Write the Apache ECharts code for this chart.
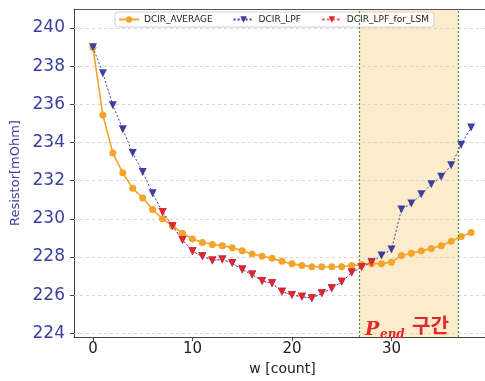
<!DOCTYPE html>
<html><head><meta charset="utf-8">
<script src="https://cdn.jsdelivr.net/npm/echarts@6/dist/echarts.min.js"></script>
<style>html,body{margin:0;padding:0;background:#fff;overflow:hidden}#c{width:520px;height:381px}</style>
</head><body><div id="c"></div>
<script>
const counts = [0,1,2,3,4,5,6,7,8,9,10,11,12,13,14,15,16,17,18,19,20,21,22,23,24,25,26,27,28,29,30,31,32,33,34,35,36,37,38];
const dcirAverage = [239.0,235.44,233.45,232.41,231.60,231.09,230.49,230.0,229.63,229.25,228.94,228.76,228.66,228.59,228.49,228.33,228.16,228.04,227.94,227.77,227.65,227.56,227.49,227.49,227.49,227.49,227.55,227.60,227.65,227.65,227.73,228.08,228.20,228.32,228.45,228.59,228.82,229.07,229.28];
const dcirLpf = [239.0,237.63,235.96,234.70,233.45,232.45,231.34,230.36,229.63,228.89,228.30,228.04,227.82,227.87,227.68,227.34,227.08,226.74,226.62,226.18,226.01,225.92,225.84,226.10,226.36,226.70,227.18,227.47,227.73,228.08,228.39,230.49,230.80,231.29,231.81,232.21,232.81,233.89,234.79];
const dcirLpfForLsm = [null,null,null,null,null,null,null,230.36,229.63,228.89,228.30,228.04,227.82,227.87,227.68,227.34,227.08,226.74,226.62,226.18,226.01,225.92,225.84,226.10,226.36,226.70,227.18,227.47,227.73,null,null,null,null,null,null,null,null,null,null];
const yTicks = [224,226,228,230,232,234,236,238,240];
const xTicks = [0,10,20,30];
const pEndRange = [26.8, 36.7];

const pairs = arr => counts.map((c,i)=>[c, arr[i]]);
const chart = echarts.init(document.getElementById('c'));
const blue = '#3b40a0', orange = '#f4a42a', red = '#e3262b';
chart.setOption({
  animation:false,
  grid:{left:74, top:9, width:417, height:333.6, show:false},
  legend:{
    left:115, top:12, itemWidth:20, itemHeight:8, itemGap:20,
    backgroundColor:'rgba(255,255,255,0.9)', borderColor:'#d0d0d0', borderWidth:1, borderRadius:3,
    padding:[3,5,3,3],
    textStyle:{fontFamily:'DejaVu Sans', fontSize:9, color:'#222'},
    data:['DCIR_AVERAGE','DCIR_LPF','DCIR_LPF_for_LSM']
  },
  xAxis:[{
    type:'value', min:-1.9, max:40, 
    name:'w [count]', nameLocation:'middle', nameGap:24,
    nameTextStyle:{fontFamily:'DejaVu Sans', fontSize:14, color:'#222'},
    axisLine:{show:true, onZero:false, lineStyle:{color:'#444'}},
    axisTick:{show:true, length:4, lineStyle:{color:'#444'}, customValues:xTicks},
    axisLabel:{fontFamily:'DejaVu Sans', fontSize:15, color:'#222', margin:5, customValues:xTicks},
    splitLine:{show:false}
  },{
    type:'value', min:-1.9, max:40, position:'top',
    axisLine:{show:true, onZero:false, lineStyle:{color:'#555'}},
    axisTick:{show:false}, axisLabel:{show:false}, splitLine:{show:false}
  }],
  yAxis:{
    type:'value', min:223.8, max:241.0,
    name:'Resistor[mOhm]', nameLocation:'middle', nameGap:47,
    nameTextStyle:{fontFamily:'DejaVu Sans', fontSize:13, color:blue},
    axisLine:{show:true, onZero:false, lineStyle:{color:'#444'}},
    axisTick:{show:true, length:4, lineStyle:{color:'#444'}, customValues:yTicks},
    axisLabel:{fontFamily:'DejaVu Sans', fontSize:17, color:blue, margin:9, customValues:yTicks},
    splitLine:{show:false}
  },
  series:[
    {
      name:'DCIR_AVERAGE', type:'line', data:pairs(dcirAverage), z:3,
      symbol:'circle', symbolSize:7, itemStyle:{color:orange},
      lineStyle:{color:orange, width:1.6},
      markLine:{
        silent:true, symbol:'none', label:{show:false}, z:1,
        lineStyle:{color:'#cfcfcf', type:[3,3], width:0.8},
        data: yTicks.map(v=>({yAxis:v}))
      },
      markArea:{
        silent:true, z:0,
        itemStyle:{color:'#fdeccb'},
        data:[[{xAxis:pEndRange[0]},{xAxis:pEndRange[1]}]]
      }
    },
    {
      name:'DCIR_LPF', type:'line', data:pairs(dcirLpf), z:4,
      symbol:'triangle', symbolRotate:180, symbolSize:8, itemStyle:{color:blue},
      lineStyle:{color:blue, width:1, type:[2,2]},
      markLine:{
        silent:true, symbol:'none', label:{show:false},
        lineStyle:{color:'#3f8f3f', type:[2,2], width:1.2},
        data: pEndRange.map(v=>({xAxis:v}))
      }
    },
    {
      name:'DCIR_LPF_for_LSM', type:'line', data:pairs(dcirLpfForLsm), z:5,
      symbol:'triangle', symbolRotate:180, symbolSize:8, itemStyle:{color:red},
      lineStyle:{color:red, width:0.8, type:[3,2], opacity:0.7}
    }
  ],
  graphic:[
    {type:'text', left:365, top:321, z:10, style:{text:'P', fill:red, font:'italic bold 19px "DejaVu Serif"'}},
    {type:'text', left:380, top:329, z:10, style:{text:'end', fill:red, font:'italic bold 12px "DejaVu Serif"'}},
    {type:'text', left:412, top:315, z:10, style:{text:'구간', fill:red, font:'bold 20px "Noto Sans CJK KR"'}}
  ]
});
</script></body></html>
